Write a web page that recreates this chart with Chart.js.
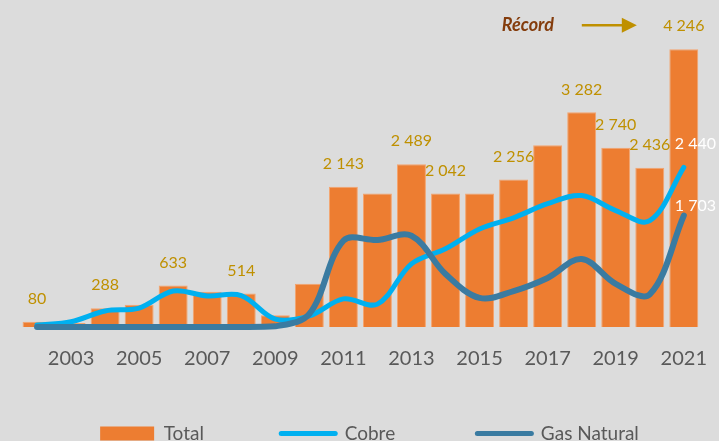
<!DOCTYPE html>
<html>
<head>
<meta charset="utf-8">
<script src="https://cdn.jsdelivr.net/npm/chart.js@4"></script>
<style>
html, body { margin: 0; padding: 0; background: #dcdcdc; overflow: hidden; }
#wrap { width: 719px; height: 453px; position: relative; }
</style>
</head>
<body>
<div id="wrap"><canvas id="chart"></canvas></div>
<script>
var years = ["2002","2003","2004","2005","2006","2007","2008","2009","2010","2011",
             "2012","2013","2014","2015","2016","2017","2018","2019","2020","2021"];
var total = [80, 60, 288, 340, 633, 540, 514, 180, 660, 2143,
             2040, 2489, 2042, 2040, 2256, 2780, 3282, 2740, 2436, 4246];
var cobre = [30, 80, 245, 290, 550, 475, 480, 120, 170, 430,
             350, 965, 1195, 1500, 1670, 1885, 2010, 1780, 1625, 2440];
var gas = [0, 0, 0, 0, 0, 0, 0, 10, 200, 1320,
           1330, 1395, 810, 445, 550, 750, 1040, 660, 500, 1703];
// which bars carry a value label
var totalLabelled = [1, 0, 1, 0, 1, 0, 1, 0, 0, 1, 0, 1, 1, 0, 1, 0, 1, 1, 1, 1];
var recordText = "Récord";

var ORANGE = "#ED7D31";
var CYAN = "#00B0F0";
var STEEL = "#3A7BA1";
var GOLD = "#BF9000";
var FONT = "Lato, 'Noto Sans', sans-serif";

function fmt(n) {
    return String(n).replace(/\B(?=(\d{3})+(?!\d))/g, " ");
}

// bar values, end of line values, record arrow
var labelsPlugin = {
    id: "labels",
    afterDatasetsDraw: function(chart) {
        var ctx = chart.ctx;
        ctx.save();
        ctx.font = "16px " + FONT;
        ctx.textAlign = "center";
        ctx.textBaseline = "middle";
        ctx.fillStyle = GOLD;
        var bars = chart.getDatasetMeta(0).data;
        bars.forEach(function(bar, i) {
            if (totalLabelled[i]) ctx.fillText(fmt(total[i]), bar.x, bar.y - 23);
        });

        // end values of the lines, in white
        ctx.fillStyle = "#ffffff";
        ctx.textAlign = "left";
        var c = chart.getDatasetMeta(1).data;
        var g = chart.getDatasetMeta(2).data;
        var last = c.length - 1;
        ctx.fillText(fmt(cobre[last]), c[last].x - 9, c[last].y - 24);
        ctx.fillText(fmt(gas[last]), g[last].x - 9, g[last].y - 10);

        // record annotation
        var top = bars[bars.length - 1];
        var ay = top.y - 24;
        ctx.font = "italic bold 18px " + FONT;
        ctx.fillStyle = "#843C0C";
        ctx.textAlign = "center";
        ctx.fillText(recordText, top.x - 156, ay);
        ctx.strokeStyle = GOLD;
        ctx.fillStyle = GOLD;
        ctx.lineWidth = 2.5;
        ctx.beginPath();
        ctx.moveTo(top.x - 102, ay);
        ctx.lineTo(top.x - 60, ay);
        ctx.stroke();
        ctx.beginPath();
        ctx.moveTo(top.x - 62, ay - 7.5);
        ctx.lineTo(top.x - 47, ay);
        ctx.lineTo(top.x - 62, ay + 7.5);
        ctx.closePath();
        ctx.fill();
        ctx.restore();
    }
};

var data = {
    labels: years,
    datasets: [
        {
            type: "bar",
            label: "Total",
            data: total,
            backgroundColor: ORANGE,
            borderColor: "#F4A46E",
            borderWidth: 1,
            barPercentage: 0.85,
            categoryPercentage: 1,
            order: 3
        },
        {
            type: "line",
            label: "Cobre",
            data: cobre,
            borderColor: CYAN,
            borderWidth: 5,
            borderCapStyle: "round",
            pointRadius: 0,
            tension: 0.35,
            clip: false,
            order: 2
        },
        {
            type: "line",
            label: "Gas Natural",
            data: gas,
            borderColor: STEEL,
            borderWidth: 6,
            borderCapStyle: "round",
            pointRadius: 0,
            tension: 0.35,
            clip: false,
            order: 1
        }
    ]
};

// trailing spaces widen the legend items to the reference spacing
var padTotal = "     ";
var padCobre = "      ";

var options = {
    responsive: true,
    maintainAspectRatio: false,
    animation: false,
    layout: { padding: { left: 20, right: 0, top: 0, bottom: 0 } },
    scales: {
        x: {
            grid: { display: false },
            border: { display: false },
            ticks: {
                autoSkip: false,
                maxRotation: 0,
                color: "#595959",
                font: { family: FONT, size: 20 },
                padding: 12,
                callback: function(v, i) { return i % 2 == 1 ? years[i] : ""; }
            },
            afterFit: function(scale) { scale.height = 44; }
        },
        y: {
            display: false,
            min: 0,
            max: 5000
        }
    },
    plugins: {
        tooltip: { enabled: false },
        legend: {
            position: "bottom",
            labels: {
                usePointStyle: true,
                pointStyleWidth: 54,
                boxHeight: 14,
                padding: 53,
                color: "#595959",
                font: { family: FONT, size: 19 },
                generateLabels: function(chart) {
                    return [
                        { text: "Total" + padTotal, pointStyle: "rect", fillStyle: ORANGE, strokeStyle: ORANGE, lineWidth: 0, datasetIndex: 0, fontColor: "#595959" },
                        { text: "Cobre" + padCobre, pointStyle: "line", fillStyle: CYAN, strokeStyle: CYAN, lineWidth: 5, lineCap: "round", datasetIndex: 1, fontColor: "#595959" },
                        { text: "Gas Natural", pointStyle: "line", fillStyle: STEEL, strokeStyle: STEEL, lineWidth: 5, lineCap: "round", datasetIndex: 2, fontColor: "#595959" }
                    ];
                }
            }
        }
    }
};

var ctx = document.getElementById("chart").getContext("2d");
var chart = new Chart(ctx, { data: data, options: options, plugins: [labelsPlugin] });
</script>
</body>
</html>
